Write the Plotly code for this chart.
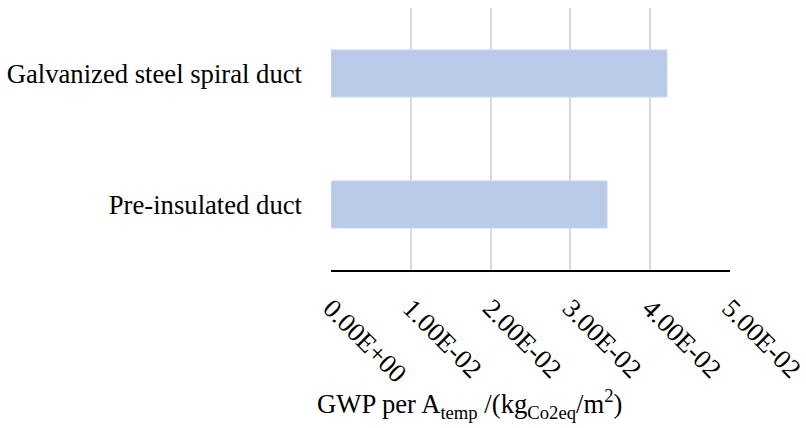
import plotly.graph_objects as go

# GWP per heated floor area for two duct types
categories = ["Pre-insulated duct", "Galvanized steel spiral duct"]
gwp_values = [0.0346, 0.0421]
tick_values = [0.0, 0.01, 0.02, 0.03, 0.04, 0.05]
tick_labels = ["0.00E+00", "1.00E-02", "2.00E-02", "3.00E-02", "4.00E-02", "5.00E-02"]

serif = "Liberation Serif"
text_size = 26.67

fig = go.Figure(
    go.Bar(
        x=gwp_values,
        y=categories,
        orientation="h",
        width=0.36,
        marker=dict(color="#B9CAE9", line=dict(color="#CCD8EF", width=1)),
    )
)

fig.update_layout(
    width=806,
    height=428,
    margin=dict(l=331, r=76, t=8, b=158),
    paper_bgcolor="white",
    plot_bgcolor="white",
    showlegend=False,
    font=dict(family=serif, color="black"),
    xaxis=dict(
        range=[0, 0.05],
        tickvals=tick_values,
        ticktext=tick_labels,
        tickangle=45,
        tickfont=dict(size=text_size, family=serif),
        ticklabeloverflow="allow",
        automargin=False,
        showgrid=True,
        gridcolor="#D9D9D9",
        gridwidth=1.5,
        zeroline=False,
        showline=True,
        linecolor="black",
        linewidth=2,
        ticks="",
        ticklabelstandoff=10,
    ),
    yaxis=dict(
        range=[-0.5, 1.5],
        tickfont=dict(size=text_size, family=serif),
        automargin=False,
        showgrid=False,
        zeroline=False,
        showline=False,
        ticks="",
        ticklabelstandoff=28,
    ),
    annotations=[
        dict(
            text="GWP per A<sub>temp</sub> /(kg<sub>Co2eq</sub>/m<sup>2</sup>)",
            xref="paper",
            yref="paper",
            x=0.348,
            y=-0.512,
            xanchor="center",
            yanchor="middle",
            showarrow=False,
            font=dict(size=text_size, family=serif, color="black"),
        )
    ],
)

fig.write_html("out.html")
